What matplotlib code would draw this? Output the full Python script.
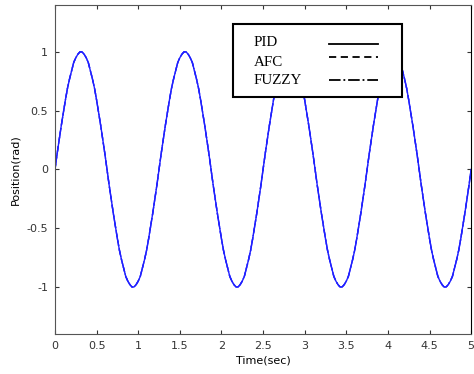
import numpy as np
import matplotlib.pyplot as plt
from matplotlib.patches import Rectangle
from matplotlib.lines import Line2D

# time samples (sec)
time = np.arange(0, 5.0001, 0.025)

# one 1.25 s cycle of position (rad), every 0.025 s
cycle = [0.00, 0.13, 0.25, 0.37, 0.48, 0.59, 0.69, 0.77, 0.84, 0.91,
         0.95, 0.98, 1.00, 1.00, 0.98, 0.95, 0.91, 0.84, 0.77, 0.69,
         0.59, 0.48, 0.37, 0.25, 0.13, 0.00, -0.13, -0.25, -0.37, -0.48,
         -0.59, -0.69, -0.77, -0.84, -0.91, -0.95, -0.98, -1.00, -1.00, -0.98,
         -0.95, -0.91, -0.84, -0.77, -0.69, -0.59, -0.48, -0.37, -0.25, -0.13]
# the three controllers track the same reference, curves coincide
pid = cycle * 4 + [0.00]
afc = list(pid)
fuzzy = list(pid)

labels = ["PID", "AFC", "FUZZY"]
styles = ["-", (0, (4, 2.5)), "-."]
xticks = [0, 0.5, 1, 1.5, 2, 2.5, 3, 3.5, 4, 4.5, 5]
yticks = [-1, -0.5, 0, 0.5, 1]

fig = plt.figure(figsize=(4.74, 3.74), dpi=100)
ax = fig.add_axes([0.116, 0.107, 0.878, 0.880])

for series, ls in zip([pid, afc, fuzzy], styles):
    ax.plot(time, series, color="#2020ff", lw=1.0, ls=ls)

ax.set_xlim(0, 5)
ax.set_ylim(-1.4, 1.4)
ax.set_xticks(xticks)
ax.set_xticklabels([f"{v:g}" for v in xticks])
ax.set_yticks(yticks)
ax.set_yticklabels([f"{v:g}" for v in yticks])
ax.tick_params(direction="in", length=3, top=True, right=True,
               labelsize=8, colors="#333333", pad=5)
for s in ax.spines.values():
    s.set_color("#555555")
    s.set_linewidth(0.8)
ax.spines["right"].set_color("black")
ax.set_xlabel("Time(sec)", fontsize=8, labelpad=3)
ax.set_ylabel("Position(rad)", fontsize=8, labelpad=4)

# legend box drawn MATLAB-style: text on the left, line samples on the right
ax.add_patch(Rectangle((0.428, 0.719), 0.405, 0.222, transform=ax.transAxes,
                       facecolor="white", edgecolor="black", lw=1.5, zorder=5))
text_y = [0.8845, 0.8246, 0.769]
line_y = [0.881, 0.841, 0.772]
for lab, ls, ty, ly in zip(labels, styles, text_y, line_y):
    ax.text(0.478, ty, lab, transform=ax.transAxes, fontsize=10.8,
            family="Liberation Serif", va="center", ha="left", zorder=6)
    ax.add_line(Line2D([0.659, 0.776], [ly, ly], transform=ax.transAxes,
                       color="black", lw=1.3, ls=ls, zorder=6))

fig.savefig("out.png", dpi=100)
